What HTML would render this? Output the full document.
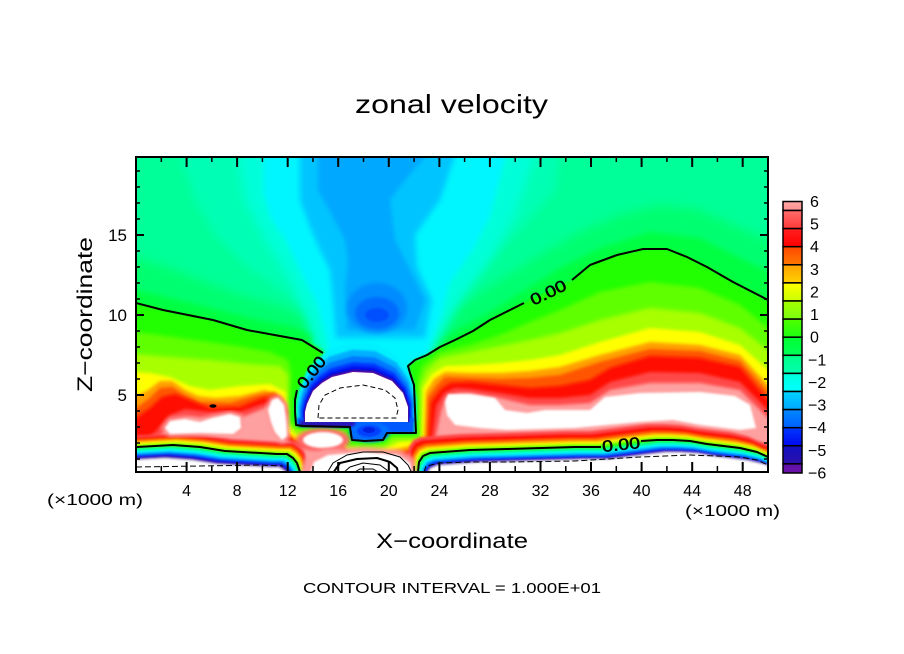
<!DOCTYPE html>
<html><head><meta charset="utf-8"><style>
html,body{margin:0;padding:0;background:#fff;}
svg{display:block;}
text{font-family:"Liberation Sans",Arial,sans-serif;fill:#000;}
</style></head><body>
<svg width="904" height="654" viewBox="0 0 904 654" xmlns="http://www.w3.org/2000/svg">
<defs>
<clipPath id="pc"><rect x="137" y="158" width="630" height="314"/></clipPath>
<filter id="b1" x="-20%" y="-20%" width="140%" height="140%"><feGaussianBlur stdDeviation="1"/></filter>
<filter id="b15" x="-20%" y="-20%" width="140%" height="140%"><feGaussianBlur stdDeviation="1.5"/></filter>
<filter id="b2" x="-20%" y="-20%" width="140%" height="140%"><feGaussianBlur stdDeviation="2"/></filter>
<filter id="b3" x="-20%" y="-20%" width="140%" height="140%"><feGaussianBlur stdDeviation="3"/></filter>
<filter id="b5" x="-20%" y="-20%" width="140%" height="140%"><feGaussianBlur stdDeviation="5"/></filter>
<path id="c0l" d="M90,447 L136,447 L173,445 L200,447 L225,451 L277,454 L287,454 L293,458 L297,463 L300,472 L303,510 L90,510 Z"/>
<path id="c0r" d="M810,510 L415,510 L417,472 L419,462 L423,456 L430,453 L470,450 L507,449 L575,447 L600,447 L640,442 L657,440 L673,440 L690,441 L707,444 L740,448 L757,452 L768,457 L810,472 Z"/>
<path id="dome" d="M305,422 L305,412 L307,404 L313,391 L322,383 L332,377 L353,372 L373,373 L392,381 L403,393 L408,407 L408,422 Z"/>
<linearGradient id="k1" x1="0" y1="0" x2="0" y2="1"><stop offset="0" stop-color="#ffa6a6"/><stop offset="1" stop-color="#ff9090"/></linearGradient>
<linearGradient id="k2" x1="0" y1="0" x2="0" y2="1"><stop offset="0" stop-color="#ff6c6c"/><stop offset="1" stop-color="#ff3838"/></linearGradient>
<linearGradient id="k3" x1="0" y1="0" x2="0" y2="1"><stop offset="0" stop-color="#ff2020"/><stop offset="1" stop-color="#ff0000"/></linearGradient>
<linearGradient id="k4" x1="0" y1="0" x2="0" y2="1"><stop offset="0" stop-color="#ff4800"/><stop offset="1" stop-color="#ff7800"/></linearGradient>
<linearGradient id="k5" x1="0" y1="0" x2="0" y2="1"><stop offset="0" stop-color="#ffa200"/><stop offset="1" stop-color="#ffd000"/></linearGradient>
<linearGradient id="k6" x1="0" y1="0" x2="0" y2="1"><stop offset="0" stop-color="#ffff00"/><stop offset="1" stop-color="#c8ff00"/></linearGradient>
<linearGradient id="k7" x1="0" y1="0" x2="0" y2="1"><stop offset="0" stop-color="#a4ff00"/><stop offset="1" stop-color="#7cff10"/></linearGradient>
<linearGradient id="k8" x1="0" y1="0" x2="0" y2="1"><stop offset="0" stop-color="#50ff00"/><stop offset="1" stop-color="#1cff10"/></linearGradient>
<linearGradient id="k9" x1="0" y1="0" x2="0" y2="1"><stop offset="0" stop-color="#00ff30"/><stop offset="1" stop-color="#00ff58"/></linearGradient>
<linearGradient id="k10" x1="0" y1="0" x2="0" y2="1"><stop offset="0" stop-color="#00ff88"/><stop offset="1" stop-color="#00ffb0"/></linearGradient>
<linearGradient id="k11" x1="0" y1="0" x2="0" y2="1"><stop offset="0" stop-color="#00ffdc"/><stop offset="1" stop-color="#00ffff"/></linearGradient>
<linearGradient id="k12" x1="0" y1="0" x2="0" y2="1"><stop offset="0" stop-color="#00d4ff"/><stop offset="1" stop-color="#00a8ff"/></linearGradient>
<linearGradient id="k13" x1="0" y1="0" x2="0" y2="1"><stop offset="0" stop-color="#0088ff"/><stop offset="1" stop-color="#0060ff"/></linearGradient>
<linearGradient id="k14" x1="0" y1="0" x2="0" y2="1"><stop offset="0" stop-color="#0038ff"/><stop offset="1" stop-color="#0008ee"/></linearGradient>
<linearGradient id="k15" x1="0" y1="0" x2="0" y2="1"><stop offset="0" stop-color="#1010c4"/><stop offset="1" stop-color="#2c10aa"/></linearGradient>
<linearGradient id="k16" x1="0" y1="0" x2="0" y2="1"><stop offset="0" stop-color="#6010aa"/><stop offset="1" stop-color="#6a12a8"/></linearGradient>
</defs>

<rect x="0" y="0" width="904" height="654" fill="#ffffff"/>

<g clip-path="url(#pc)">
<rect x="100" y="140" width="720" height="380" fill="#00ffb4"/>
<polygon filter="url(#b5)" fill="#00ff98" points="90,140 178,140 185,170 195,200 215,235 245,265 280,290 318,315 305,360 290,510 90,510"/>
<polygon filter="url(#b5)" fill="#00ff98" points="560,140 820,140 820,510 420,510 440,320 480,270 525,225 555,190"/>
<polygon filter="url(#b5)" fill="#00ff70" points="90,255 136,258 170,268 200,280 240,295 280,306 310,318 300,360 288,510 90,510"/>
<polygon filter="url(#b5)" fill="#00ff70" points="425,510 430,340 445,318 470,300 500,280 540,255 580,232 620,215 660,205 700,210 740,228 820,262 820,510"/>
<polygon filter="url(#b3)" fill="#00ff42" points="90,288 136,290 170,298 200,305 250,318 290,326 315,334 305,360 295,395 290,510 90,510"/>
<polygon filter="url(#b3)" fill="#00ff42" points="425,510 425,345 440,338 460,328 490,312 520,293 560,268 600,248 650,232 700,238 740,258 820,296 820,510"/>

<polygon filter="url(#b5)" fill="#00ffd8" points="235,140 245,200 265,240 290,280 305,315 318,345 325,380 425,380 440,340 460,300 490,260 515,215 540,140"/>
<polygon filter="url(#b3)" fill="#00f6ff" points="263,140 263,193 270,217 287,243 303,277 317,303 327,340 330,372 425,372 430,345 440,320 450,283 473,250 490,217 510,140"/>
<polygon filter="url(#b3)" fill="#00c4ff" points="300,140 300,200 310,227 320,250 330,270 333,300 336,338 425,338 432,300 417,267 415,235 440,200 460,140"/>
<polygon filter="url(#b2)" fill="#00a8ff" points="318,140 318,190 333,217 345,240 348,260 345,290 347,330 415,330 425,300 410,270 395,240 390,200 405,180 440,140"/>
<ellipse filter="url(#b2)" fill="#008cff" cx="377" cy="308" rx="30" ry="25"/>
<ellipse filter="url(#b15)" fill="#006cff" cx="377" cy="313" rx="22" ry="16"/>
<ellipse filter="url(#b1)" fill="#0050ff" cx="377" cy="315" rx="12" ry="7"/>

<polygon filter="url(#b15)" fill="#22ff00" points="90,296 136,303 163,310 213,320 247,330 280,336 310,343 322,350 326,356 318,368 305,380 298,390 295,400 295,412 296,425 303,426 350,427 352,440 365,441 383,440 387,433 400,433 416,433 415,410 414,385 410,373 408,366 415,360 427,355 440,347 455,340 473,331 490,320 510,310 523,303 548,292 573,280 590,265 617,255 643,249 667,249 687,257 707,267 733,282 768,300 820,328 820,510 90,510"/>
<polygon filter="url(#b2)" fill="#60ff00" points="90,330 136,332 180,338 230,345 270,352 288,360 291,372 290,405 290,420 298,429 345,430 348,443 365,444 385,443 390,436 418,436 418,380 422,366 440,352 470,345 500,335 530,322 560,310 600,292 650,282 700,288 740,305 768,328 820,356 820,510 90,510"/>
<polygon filter="url(#b2)" fill="#a8ff00" points="90,352 136,354 170,357 210,360 250,364 280,366 288,375 288,400 287,422 297,431 344,432 346,446 365,447 385,446 393,439 420,438 420,385 427,370 440,358 470,352 500,346 530,340 560,333 600,320 650,308 700,313 740,328 768,350 820,380 820,510 90,510"/>
<polygon filter="url(#b15)" fill="#ffff00" points="90,371 136,372 150,373 170,377 190,386 210,390 240,386 270,384 286,392 286,425 296,435 343,436 345,449 380,451 400,442 422,441 423,388 432,374 445,366 470,365 500,363 530,360 560,355 600,342 650,328 700,332 740,345 768,370 820,395 820,510 90,510"/>
<polygon filter="url(#b15)" fill="#ffa000" points="90,396 136,396 148,390 160,381 172,381 185,390 198,396 215,398 240,396 265,390 284,398 283,428 295,438 342,440 345,452 380,454 405,447 424,444 426,392 434,379 445,372 470,373 500,373 530,371 560,367 600,355 650,342 700,345 740,355 768,385 820,405 820,510 90,510"/>
<polygon filter="url(#b15)" fill="#ff5500" points="90,410 136,408 150,398 160,388 172,387 185,395 200,402 230,403 258,395 275,392 287,405 282,430 295,441 340,443 350,455 380,457 408,450 426,447 428,397 437,385 445,377 470,378 500,379 530,378 560,375 600,362 650,349 700,351 740,361 768,392 820,415 820,510 90,510"/>
<polygon filter="url(#b15)" fill="#ff0a00" points="90,422 136,418 150,408 162,397 175,394 190,400 210,408 240,407 262,398 278,396 288,412 282,432 296,443 340,446 355,458 380,460 410,452 428,450 431,402 441,389 450,383 470,382 500,385 530,388 560,386 590,380 610,368 650,356 700,358 740,367 768,400 820,425 820,510 90,510"/>
<polygon filter="url(#b15)" fill="#ff4a4a" points="90,458 136,448 155,432 170,415 185,409 210,412 240,412 262,404 280,402 288,420 282,435 300,446 340,449 362,463 395,462 412,455 430,452 436,406 444,393 455,388 470,389 500,393 530,398 560,398 590,395 610,382 650,372 700,373 740,382 768,410 820,435 820,510 90,510"/>
<polygon filter="url(#b15)" fill="#ffa0a0" points="90,468 136,458 160,436 175,421 190,417 200,418 240,418 265,408 278,405 286,425 284,440 302,448 340,451 365,465 395,466 414,458 432,455 441,411 446,397 460,393 470,393 500,398 530,405 560,405 590,403 610,390 650,383 700,383 740,390 768,418 820,445 820,510 90,510"/>

<g filter="url(#b1)">
<use href="#c0l" fill="#ff4a4a" transform="translate(7.2,-12)"/>
<use href="#c0l" fill="#ff0a00" transform="translate(6,-10)"/>
<use href="#c0l" fill="#ff5500" transform="translate(4.8,-8)"/>
<use href="#c0l" fill="#ffa000" transform="translate(3.6,-6)"/>
<use href="#c0l" fill="#ffff00" transform="translate(2.7,-4.5)"/>
<use href="#c0l" fill="#a8ff00" transform="translate(1.8,-3)"/>
<use href="#c0l" fill="#60ff00" transform="translate(0.9,-1.5)"/>
<use href="#c0l" fill="#22ff00"/>
<use href="#c0l" fill="#00ff70" transform="translate(-0.9,1.5)"/>
<use href="#c0l" fill="#00ffc0" transform="translate(-1.8,3)"/>
<use href="#c0l" fill="#00ffff" transform="translate(-2.7,4.5)"/>
<use href="#c0l" fill="#00b0ff" transform="translate(-3.6,6)"/>
<use href="#c0l" fill="#0060ff" transform="translate(-4.5,7.5)"/>
<use href="#c0l" fill="#0010ee" transform="translate(-5.4,9)"/>
<use href="#c0l" fill="#2010b8" transform="translate(-6.3,10.5)"/>
<use href="#c0l" fill="#6010a8" transform="translate(-7.2,12)"/>
<use href="#c0l" fill="#ffffff" transform="translate(-8,13.3)"/>
</g>
<g filter="url(#b1)">
<use href="#c0r" fill="#ff4a4a" transform="translate(-9.6,-16)"/>
<use href="#c0r" fill="#ff0a00" transform="translate(-7.8,-13)"/>
<use href="#c0r" fill="#ff5500" transform="translate(-5.4,-9)"/>
<use href="#c0r" fill="#ffa000" transform="translate(-4.2,-7)"/>
<use href="#c0r" fill="#ffff00" transform="translate(-3,-5)"/>
<use href="#c0r" fill="#a8ff00" transform="translate(-2.1,-3.5)"/>
<use href="#c0r" fill="#60ff00" transform="translate(-1.2,-2)"/>
<use href="#c0r" fill="#22ff00" transform="translate(-0.5,-0.8)"/>
<use href="#c0r" fill="#00ff70" transform="translate(0.9,1.5)"/>
<use href="#c0r" fill="#00ffc0" transform="translate(1.8,3)"/>
<use href="#c0r" fill="#00ffff" transform="translate(2.7,4.5)"/>
<use href="#c0r" fill="#00b0ff" transform="translate(3.6,6)"/>
<use href="#c0r" fill="#0060ff" transform="translate(4.5,7.5)"/>
<use href="#c0r" fill="#0010ee" transform="translate(5.4,9)"/>
<use href="#c0r" fill="#2010b8" transform="translate(6.3,10.5)"/>
<use href="#c0r" fill="#6010a8" transform="translate(6.9,11.5)"/>
<use href="#c0r" fill="#ffffff" transform="translate(7.5,12.5)"/>
</g>

<polygon filter="url(#b1)" fill="#ffffff" points="445,402 448,394 470,394 495,398 505,410 527,413 545,410 590,410 605,397 640,393 700,392 735,396 750,405 756,428 740,430 700,425 673,420 640,422 575,428 507,430 480,428 455,425 447,415"/>
<polygon filter="url(#b2)" fill="#ff9a9a" stroke="#ff9a9a" stroke-width="6" points="165,428 170,421 185,419 200,422 212,418 230,414 240,417 241,428 233,434 200,433 170,434"/>
<polygon filter="url(#b1)" fill="#ffffff" points="165,428 170,421 185,419 200,422 212,418 230,414 240,417 241,428 233,434 200,433 170,434"/>
<polygon filter="url(#b2)" fill="#ff9a9a" stroke="#ff9a9a" stroke-width="6" points="268,410 272,400 278,398 284,405 286,420 287,436 282,440 275,432 271,422"/>
<polygon filter="url(#b1)" fill="#ffffff" points="268,410 272,400 278,398 284,405 286,420 287,436 282,440 275,432 271,422"/>
<ellipse filter="url(#b2)" fill="#ff6a6a" cx="323" cy="440" rx="27" ry="12"/>
<ellipse filter="url(#b1)" fill="#ffffff" cx="323" cy="440" rx="20" ry="8"/>
<polygon filter="url(#b2)" fill="#ff9a9a" points="298,480 305,458 325,449 365,447 400,450 414,458 418,480"/>
<polygon filter="url(#b1)" fill="#ffffff" points="308,480 314,462 328,455 365,452 398,455 410,463 413,480"/>

<g filter="url(#b1)">
<use href="#dome" fill="#00f0ff" transform="translate(356,422) scale(1.16,1.6) translate(-356,-422)"/>
<use href="#dome" fill="#00b0ff" transform="translate(356,422) scale(1.13,1.45) translate(-356,-422)"/>
<use href="#dome" fill="#0078ff" transform="translate(356,422) scale(1.10,1.32) translate(-356,-422)"/>
<use href="#dome" fill="#0038ff" transform="translate(356,422) scale(1.07,1.2) translate(-356,-422)"/>
<use href="#dome" fill="#0010f0" transform="translate(356,422) scale(1.045,1.12) translate(-356,-422)"/>
</g>
<polygon filter="url(#b1)" fill="#0058ff" points="297,418 297,426 350,428 352,440 383,440 387,433 414,433 414,418"/>
<rect x="300" y="421" width="55" height="6" fill="#2a18b8" filter="url(#b1)"/>
<ellipse filter="url(#b15)" fill="#0070ff" cx="370" cy="432" rx="20" ry="10"/>
<ellipse filter="url(#b1)" fill="#0040ff" cx="369" cy="431" rx="12" ry="6"/>
<ellipse fill="#0020e0" cx="369" cy="430" rx="6" ry="3"/>
<use href="#dome" fill="#2010b8" transform="translate(356,422) scale(1.025,1.06) translate(-356,-422)"/>
<use href="#dome" fill="#6010a8" transform="translate(356,422) scale(1.01,1.025) translate(-356,-422)"/>
<use href="#dome" fill="#ffffff"/>

<g fill="none" stroke="#000" stroke-width="2" stroke-linejoin="round">
<polyline points="136,303 163,310 213,320 247,330 280,336 302,340 323,353"/>
<polyline points="297,390 295,400 295,412 296,425 303,426 350,427 351,434 352,440 365,441 383,440 387,433 400,433 416,433 415,410 414,385 410,373 408,366 415,360 427,355 440,347 455,340 473,331 490,320 510,310 524,303"/>
<polyline points="572,280 590,265 617,255 643,249 667,249 687,257 707,267 733,282 768,300"/>
<polyline points="136,447 173,445 200,447 225,451 277,454 287,454 293,458 297,463 300,472"/>
<polyline points="418,472 419,462 423,456 430,453 470,450 507,449 575,447 601,447"/>
<polyline points="641,441 657,440 673,440 690,441 707,444 740,448 757,452 768,457"/>
<polyline points="333,473 340,463 357,459 377,458 390,462 397,468 398,473"/>
</g>
<g fill="none" stroke="#000" stroke-width="1">
<polyline stroke-dasharray="5 3" points="318,418 319,405 325,395 340,388 363,385 385,390 395,398 398,410 396,418 318,418"/>
<polyline stroke-dasharray="6 3" points="136,467 200,466 260,465 283,466"/>
<polyline stroke-dasharray="6 3" points="424,472 426,466 440,463 470,462 507,462 575,461 640,457 690,455 740,457 757,460 768,465"/>
<polyline points="327,473 333,463 347,455 363,452 383,452 400,457 408,465 412,473"/>
<polyline points="343,473 350,467 363,463 380,465 387,470 388,473"/>
<polyline points="353,473 360,469 373,469 380,473"/>
</g>
<ellipse cx="213" cy="406" rx="3.5" ry="1.8" fill="#000"/>
<g font-size="16" stroke="#000" stroke-width="0.5">
<text x="0" y="6" text-anchor="middle" textLength="36" lengthAdjust="spacingAndGlyphs" transform="translate(311,372) rotate(-52)">0.00</text>
<text x="0" y="6" text-anchor="middle" textLength="38" lengthAdjust="spacingAndGlyphs" transform="translate(548,292) rotate(-26)">0.00</text>
<text x="0" y="6" text-anchor="middle" textLength="38" lengthAdjust="spacingAndGlyphs" transform="translate(621,444) rotate(-6)">0.00</text>
</g>
</g>

<rect x="136" y="157" width="632" height="315" fill="none" stroke="#000" stroke-width="2"/>
<path fill="none" stroke="#000" stroke-width="2" d="
M186.6,157v10 M237.1,157v10 M287.7,157v10 M338.2,157v10 M388.8,157v10 M439.4,157v10 M489.9,157v10 M540.5,157v10 M591,157v10 M641.6,157v10 M692.2,157v10 M742.7,157v10
M186.6,472v-10 M237.1,472v-10 M287.7,472v-10 M338.2,472v-10 M388.8,472v-10 M439.4,472v-10 M489.9,472v-10 M540.5,472v-10 M591,472v-10 M641.6,472v-10 M692.2,472v-10 M742.7,472v-10
M136,395h8 M136,315h8 M136,235h8 M768,395h-8 M768,315h-8 M768,235h-8"/>
<path fill="none" stroke="#000" stroke-width="1.5" d="
M161.3,157v5 M211.8,157v5 M262.4,157v5 M313,157v5 M363.5,157v5 M414.1,157v5 M464.6,157v5 M515.2,157v5 M565.8,157v5 M616.3,157v5 M666.9,157v5 M717.4,157v5
M161.3,472v-6 M211.8,472v-6 M262.4,472v-6 M313,472v-6 M363.5,472v-6 M414.1,472v-6 M464.6,472v-6 M515.2,472v-6 M565.8,472v-6 M616.3,472v-6 M666.9,472v-6 M717.4,472v-6
M136,459h4 M136,443h4 M136,427h4 M136,411h4 M136,379h4 M136,363h4 M136,347h4 M136,331h4 M136,299h4 M136,283h4 M136,267h4 M136,251h4 M136,219h4 M136,203h4 M136,187h4 M136,171h4
M768,459h-4 M768,443h-4 M768,427h-4 M768,411h-4 M768,379h-4 M768,363h-4 M768,347h-4 M768,331h-4 M768,299h-4 M768,283h-4 M768,267h-4 M768,251h-4 M768,219h-4 M768,203h-4 M768,187h-4 M768,171h-4"/>

<g font-size="16" text-anchor="middle">
<text x="186.6" y="496">4</text>
<text x="237.1" y="496">8</text>
<text x="287.7" y="496">12</text>
<text x="338.2" y="496">16</text>
<text x="388.8" y="496">20</text>
<text x="439.4" y="496">24</text>
<text x="489.9" y="496">28</text>
<text x="540.5" y="496">32</text>
<text x="591" y="496">36</text>
<text x="641.6" y="496">40</text>
<text x="692.2" y="496">44</text>
<text x="742.7" y="496">48</text>
</g>
<g font-size="17" text-anchor="end">
<text x="127" y="401">5</text>
<text x="127" y="321">10</text>
<text x="127" y="241">15</text>
</g>
<text x="47" y="505" font-size="16" textLength="96" lengthAdjust="spacingAndGlyphs">(×1000 m)</text>
<text x="685" y="516" font-size="16" textLength="95" lengthAdjust="spacingAndGlyphs">(×1000 m)</text>
<text x="376" y="548" font-size="21" textLength="152" lengthAdjust="spacingAndGlyphs">X−coordinate</text>
<text x="0" y="0" font-size="21" textLength="155" lengthAdjust="spacingAndGlyphs" transform="translate(92,392) rotate(-90)">Z−coordinate</text>
<text x="355" y="113" font-size="26" textLength="193" lengthAdjust="spacingAndGlyphs">zonal velocity</text>
<text x="303" y="593" font-size="15" textLength="298" lengthAdjust="spacingAndGlyphs">CONTOUR INTERVAL = 1.000E+01</text>

<g stroke="#000" stroke-width="1.5">
<rect x="783" y="201.5" width="19" height="9" fill="url(#k1)"/>
<rect x="783" y="210.5" width="19" height="18.1" fill="url(#k2)"/>
<rect x="783" y="228.6" width="19" height="18.1" fill="url(#k3)"/>
<rect x="783" y="246.7" width="19" height="18.1" fill="url(#k4)"/>
<rect x="783" y="264.8" width="19" height="18.1" fill="url(#k5)"/>
<rect x="783" y="282.9" width="19" height="18.1" fill="url(#k6)"/>
<rect x="783" y="301" width="19" height="18.1" fill="url(#k7)"/>
<rect x="783" y="319.1" width="19" height="18.1" fill="url(#k8)"/>
<rect x="783" y="337.2" width="19" height="18.1" fill="url(#k9)"/>
<rect x="783" y="355.3" width="19" height="18.1" fill="url(#k10)"/>
<rect x="783" y="373.4" width="19" height="18.1" fill="url(#k11)"/>
<rect x="783" y="391.5" width="19" height="18.1" fill="url(#k12)"/>
<rect x="783" y="409.6" width="19" height="18.1" fill="url(#k13)"/>
<rect x="783" y="427.7" width="19" height="18.1" fill="url(#k14)"/>
<rect x="783" y="445.8" width="19" height="18.1" fill="url(#k15)"/>
<rect x="783" y="463.9" width="19" height="9.1" fill="url(#k16)"/>
</g>
<g font-size="16">
<text x="810" y="207">6</text>
<text x="810" y="229.6">5</text>
<text x="810" y="252.2">4</text>
<text x="810" y="274.9">3</text>
<text x="810" y="297.5">2</text>
<text x="810" y="320.1">1</text>
<text x="810" y="342.7">0</text>
<text x="808" y="365.4">−1</text>
<text x="808" y="388">−2</text>
<text x="808" y="410.6">−3</text>
<text x="808" y="433.2">−4</text>
<text x="808" y="455.9">−5</text>
<text x="808" y="478.5">−6</text>
</g>
</svg>
</body></html>
